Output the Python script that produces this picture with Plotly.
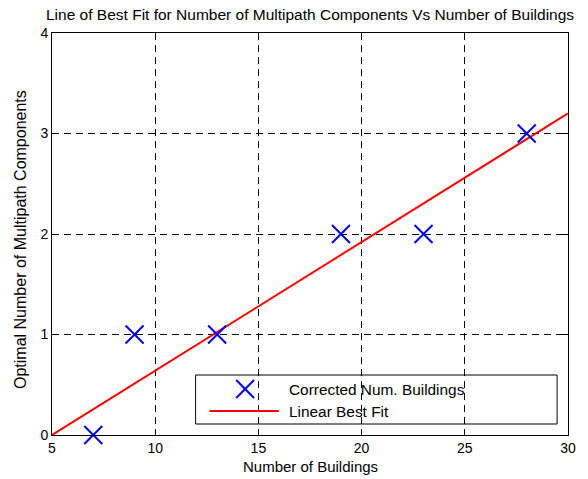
import plotly.graph_objects as go

# Measured buildings vs. optimal number of multipath components
buildings = [7, 9, 13, 19, 23, 28]
components = [0, 1, 1, 2, 2, 3]

# Linear best fit, evaluated at the ends of the x range
fit_x = [5, 30]
fit_y = [0.0, 3.2]

x_ticks = [5, 10, 15, 20, 25, 30]
y_ticks = [0, 1, 2, 3, 4]

FONT = "Liberation Sans, Arial, sans-serif"

# plot area in pixels (for the hand-drawn legend)
W, H = 588, 479
ML, MR, MT, MB = 52, 15, 33, 44
PW, PH = W - ML - MR, H - MT - MB


def px(x):
    return (x - ML) / PW


def py(y):
    return (H - MB - y) / PH


fig = go.Figure()

fig.add_trace(go.Scatter(
    x=fit_x, y=fit_y, mode="lines",
    line=dict(color="red", width=2),
    name="Linear Best Fit", showlegend=False,
))

fig.add_trace(go.Scatter(
    x=buildings, y=components, mode="markers", cliponaxis=False,
    marker=dict(symbol="x-thin", size=18, line=dict(color="blue", width=2), color="blue"),
    name="Corrected Num. Buildings", showlegend=False,
))

axis_common = dict(
    showline=True, linecolor="black", linewidth=1, mirror="ticks",
    ticks="inside", ticklen=5, tickcolor="black",
    showgrid=True, gridcolor="black", gridwidth=1, griddash="7px,5px",
    zeroline=False,
    tickfont=dict(family=FONT, size=14, color="black"),
)

fig.update_xaxes(range=[5, 30], tickvals=x_ticks, **axis_common)
fig.update_yaxes(range=[0, 4], tickvals=y_ticks, **axis_common)

shapes = [
    # legend box
    dict(type="rect", xref="paper", yref="paper",
         x0=px(197), x1=px(562), y0=py(424), y1=py(375),
         line=dict(color="black", width=1), fillcolor="white", layer="between"),
    # legend sample: X marker
    dict(type="line", xref="paper", yref="paper",
         x0=px(238), x1=px(256), y0=py(380), y1=py(398),
         line=dict(color="blue", width=2)),
    dict(type="line", xref="paper", yref="paper",
         x0=px(238), x1=px(256), y0=py(398), y1=py(380),
         line=dict(color="blue", width=2)),
    # legend sample: red line
    dict(type="line", xref="paper", yref="paper",
         x0=px(211), x1=px(281), y0=py(411), y1=py(411),
         line=dict(color="red", width=2)),
]

annotations = [
    dict(text="Corrected Num. Buildings", xref="paper", yref="paper",
         x=px(289), y=py(389), xanchor="left", yanchor="middle", showarrow=False,
         font=dict(family=FONT, size=15.4, color="black")),
    dict(text="Linear Best Fit", xref="paper", yref="paper",
         x=px(289), y=py(411), xanchor="left", yanchor="middle", showarrow=False,
         font=dict(family=FONT, size=15.4, color="black")),
    dict(text="Number of Buildings", xref="paper", yref="paper",
         x=0.5, y=0, yshift=-31, xanchor="center", yanchor="middle", showarrow=False,
         font=dict(family=FONT, size=15, color="black")),
    dict(text="Optimal Number of Multipath Components", xref="paper", yref="paper",
         x=0, y=0.5, xshift=-32, yshift=-6, xanchor="center", yanchor="middle", showarrow=False,
         textangle=-90, font=dict(family=FONT, size=16, color="black")),
    dict(text="Line of Best Fit for Number of Multipath Components Vs Number of Buildings",
         xref="paper", yref="paper", x=0, y=1, xshift=-8, yshift=19, xanchor="left", yanchor="middle",
         showarrow=False, font=dict(family=FONT, size=15.5, color="black")),
]

fig.update_layout(
    width=W, height=H,
    margin=dict(l=ML, r=MR, t=MT, b=MB),
    paper_bgcolor="white", plot_bgcolor="white",
    shapes=shapes, annotations=annotations,
    showlegend=False,
)

fig.write_html("out.html")
